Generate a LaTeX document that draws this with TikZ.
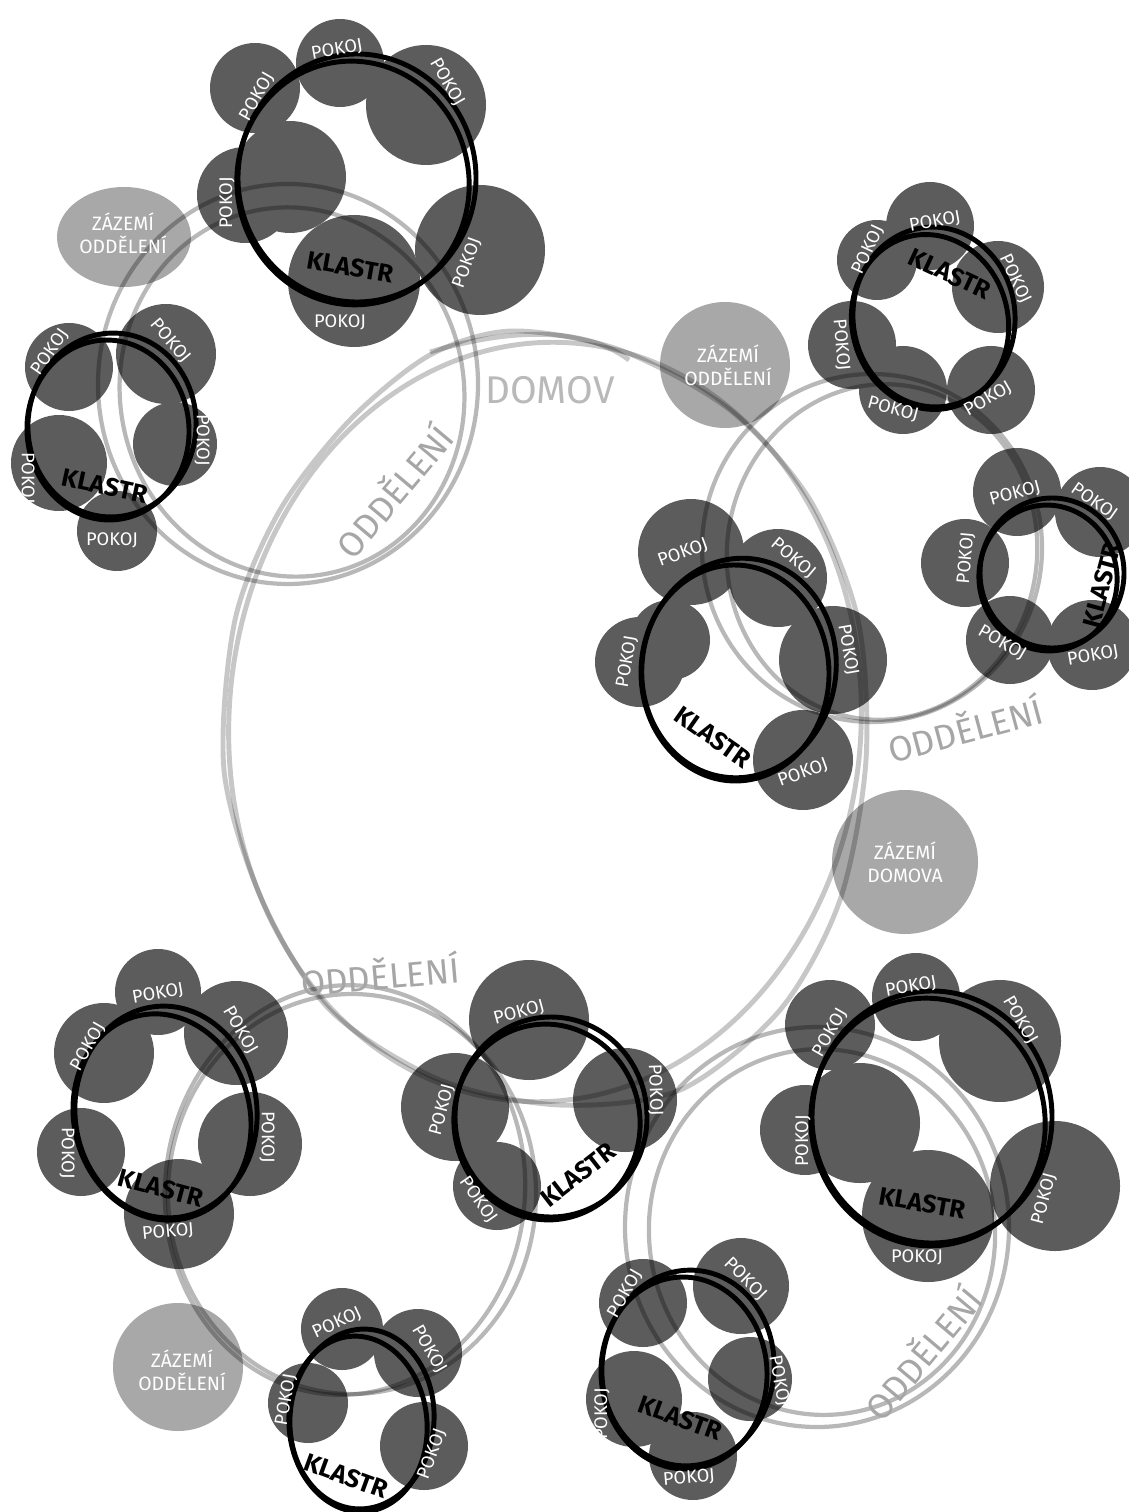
\documentclass[tikz,border=0pt]{standalone}
\usepackage{fontspec}
\setmainfont{Fira Sans}
\usetikzlibrary{positioning}
\definecolor{roomgray}{HTML}{5C5C5C}
\definecolor{notegray}{HTML}{A6A6A6}
\definecolor{homegray}{HTML}{B9B9B9}

\begin{document}
\begin{tikzpicture}[
    x=0.1mm,y=-0.1mm,
    room/.style={fill=roomgray},
    service/.style={fill=black,fill opacity=0.34},
    dept/.style={draw=black,draw opacity=0.28,line width=1.2pt},
    home/.style={draw=black,draw opacity=0.22,line width=1.4pt},
    ring/.style={draw=black,line width=1.4pt},
    pokoj/.style={text=white,inner sep=0pt,font=\fontsize{5.2}{6}\selectfont},
    klastr/.style={inner sep=0pt,font=\fontsize{7.2}{8}\selectfont\bfseries},
    note/.style={text=notegray,inner sep=0pt,font=\fontsize{10}{11}\selectfont},
    servtext/.style={text=white,align=center,inner sep=0pt,font=\fontsize{5.5}{6.5}\selectfont}
  ]
\useasboundingbox (0,0) rectangle (1128,1512);

% zazemi
\fill[service] (124,237) ellipse [x radius=67, y radius=50];
\fill[service] (725,365) ellipse [x radius=65, y radius=63];
\fill[service] (905,862) ellipse [x radius=73, y radius=72];
\fill[service] (178,1367) ellipse [x radius=65, y radius=64];

% pokoje
\foreach \x/\y/\r in {255/88/45, 340/63/44, 426/105/60, 290/177/56, 245/195/48, 480/250/65, 354/281/66, % A
    69/367/44, 166/354/50, 59/463/48, 175/444/42, 117/531/40, % B
    930/226/44, 877/260/40, 998/287/46, 852/345/44, 903/390/44, 991/390/44, % C
    1017/492/44, 1100/512/45, 965/563/44, 1010/640/44, 1092/645/45, % D
    691/552/53, 778/578/49, 640/662/45, 670/640/40, 833/660/54, 803/760/50, % E
    158/992/43, 104/1053/50, 236/1033/52, 250/1144/52, 81/1152/44, 179/1214/55, % F
    529/1020/60, 455/1107/54, 625/1100/52, 497/1186/44, % G
    342/1329/41, 418/1353/44, 308/1403/40, 424/1446/44, % H
    916/997/44, 830/1025/45, 1000/1041/61, 860/1123/60, 805/1130/45, 1055/1186/65, 928/1216/66, % I
    643/1303/44, 741/1286/48, 634/1399/48, 750/1379/42, 693/1456/44} % J
  \fill[room] (\x,\y) circle (\r);

% domov
\draw[home] plot[smooth cycle] coordinates {(512,331) (620,350) (730,410) (810,500) (858,620) (866,760)
  (840,900) (780,1010) (680,1090) (560,1105) (440,1080) (330,1010) (262,900) (224,770) (235,620)
  (280,510) (350,420) (430,355)};
\draw[home] (545,722) ellipse [x radius=316, y radius=380, rotate=-4];
\draw[home] (430,352) .. controls (520,325) and (590,330) .. (629,360);

% oddeleni
\draw[dept] (288,384) ellipse [x radius=190, y radius=200];
\draw[dept] (292,392) ellipse [x radius=172, y radius=185, rotate=10];
\draw[dept] (872,548) ellipse [x radius=170, y radius=174];
\draw[dept] (882,552) ellipse [x radius=155, y radius=168, rotate=-8];
\draw[dept] (352,1194) ellipse [x radius=184, y radius=200];
\draw[dept] (345,1190) ellipse [x radius=180, y radius=205, rotate=-5];
\draw[dept] (817,1227) ellipse [x radius=192, y radius=200];
\draw[dept] (822,1232) ellipse [x radius=173, y radius=183, rotate=6];

% klastry
\foreach \x/\y/\a/\b/\t in {357/178/119/124/0, 112/425/84/92/-5, 934/317/81/90/5, 1052/573/72/75/0,
    739/668/97/110/-8, 166/1112/91/106/5, 551/1117/96/100/0, 362/1419/72/90/-4, 932/1117/120/126/0,
    688/1368/86/98/-6} {
  \draw[ring] (\x,\y) ellipse [x radius=\a, y radius=\b, rotate=\t];
  \draw[ring] ({\x-4},{\y+5}) ellipse [x radius=\a-3, y radius=\b-2, rotate=\t+9];
}

\foreach \x/\y/\t [count=\n] in {257/97/60, 337/50/10, 447/82/-60, 227/203/90, 467/263/70, 340/322/0,
    50/352/55, 170/341/-50, 27/478/-90, 202/440/-90, 112/540/0,
    935/222/10, 868/250/65, 1015/279/-65, 841/345/-85, 893/409/-15, 988/399/30,
    1015/494/15, 1094/502/-35, 966/558/85, 1002/643/-30, 1093/656/10,
    683/553/20, 793/558/-40, 627/662/80, 848/650/-80, 803/773/20,
    158/994/10, 88/1047/60, 240/1030/-60, 267/1137/-90, 67/1153/-90, 168/1232/5,
    519/1013/15, 442/1110/75, 478/1200/-55, 655/1090/-88,
    337/1323/25, 429/1349/-60, 286/1400/80, 432/1454/70,
    911/987/10, 830/1033/60, 1020/1020/-60, 803/1141/90, 1044/1199/75, 917/1257/0,
    625/1294/60, 745/1279/-45, 602/1414/90, 779/1381/-80, 689/1478/5}
  \node[pokoj,rotate=\t] (pokoj\n) at (\x,\y) {POKOJ};

\foreach \x/\y/\t/\c in {350/267/-10/A, 105/486/-12/B, 950/274/-25/C, 1102/585/75/D, 713/737/-35/E,
    161/1188/-15/F, 578/1175/38/G, 346/1476/-20/H, 922/1203/-10/I, 680/1418/-20/J}
  \node[klastr,rotate=\t] (klastr\c) at (\x,\y) {KLASTR};

\node[servtext] (zazemiA) at (123,233) {ZÁZEMÍ\\ODDĚLENÍ};
\node[servtext] (zazemiB) at (728,365) {ZÁZEMÍ\\ODDĚLENÍ};
\node[servtext] (zazemiC) at (905,862) {ZÁZEMÍ\\DOMOVA};
\node[servtext] (zazemiD) at (182,1370) {ZÁZEMÍ\\ODDĚLENÍ};

\node[note,text=homegray,font=\fontsize{11}{12}\selectfont] (domov) at (550,390) {DOMOV};
\node[note,rotate=50] (oddA) at (393,490) {ODDĚLENÍ};
\node[note,rotate=15] (oddB) at (965,728) {ODDĚLENÍ};
\node[note,rotate=5] (oddC) at (380,974) {ODDĚLENÍ};
\node[note,rotate=50] (oddD) at (922,1352) {ODDĚLENÍ};
\end{tikzpicture}
\end{document}
